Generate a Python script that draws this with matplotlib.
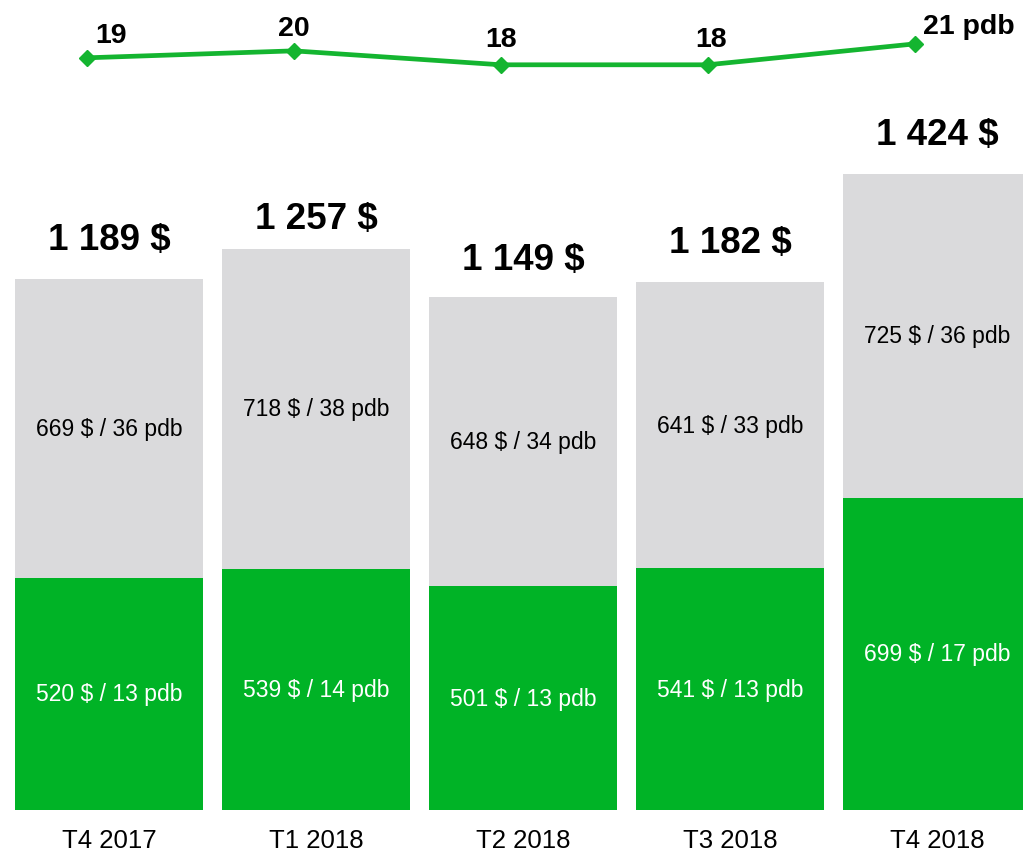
import matplotlib
matplotlib.use("Agg")
import matplotlib.pyplot as plt

# ---- data ----
categories = ["T4 2017", "T1 2018", "T2 2018", "T3 2018", "T4 2018"]
green_vals = [520, 539, 501, 541, 699]
green_pdb = [13, 14, 13, 13, 17]
gray_vals = [669, 718, 648, 641, 725]
gray_pdb = [36, 38, 34, 33, 36]
line_vals = [19, 20, 18, 18, 21]

# ---- style ----
GREEN = "#00B326"
GRAY = "#DADADC"
LINE_GREEN = "#14B530"
FONT = "Liberation Sans"
plt.rcParams["font.family"] = [FONT, "DejaVu Sans"]

total_offsets_px = [40, 30, 37, 40, 40]          # label centre above bar top
line_label_offsets_px = [(24, 23), (0, 23), (0, 26), (3, 26), (8, 18)]
line_label_ha = ["center", "center", "center", "center", "left"]

fig = plt.figure(figsize=(10.23, 8.53), dpi=100)
ax = fig.add_axes([0, 0, 1, 1])
ax.set_xlim(-0.527, 4.415)
ax.set_ylim(-94, 1816)
ax.axis("off")

x = list(range(len(categories)))
width = 0.908
ax.bar(x, green_vals, width=width, color=GREEN, linewidth=0)
ax.bar(x, gray_vals, width=width, bottom=green_vals, color=GRAY, linewidth=0)

for i in x:
    g, s = green_vals[i], gray_vals[i]
    ax.text(i, g / 2, f"{g} $ / {green_pdb[i]} pdb", ha="center", va="center",
            color="white", fontsize=16.5)
    ax.text(i, g + s / 2, f"{s} $ / {gray_pdb[i]} pdb", ha="center", va="center",
            color="black", fontsize=16.5)
    total = g + s
    tot_str = f"{total:,} $".replace(",", " ")
    ax.annotate(tot_str, (i, total), xytext=(0, total_offsets_px[i]),
                textcoords="offset pixels", ha="center", va="center",
                fontsize=26.5, fontweight="bold", color="black")
    ax.annotate(categories[i], (i, 0), xytext=(0, -30), textcoords="offset pixels",
                ha="center", va="center", fontsize=18.5, color="black")

# ---- line on overlay axes ----
ax2 = fig.add_axes([0, 0, 1, 1])
ax2.set_xlim(-0.527, 4.415)
ax2.set_ylim(-94.95, 27.44)
ax2.axis("off")
lx = [i - 0.108 for i in x]
ax2.plot(lx, line_vals, color=LINE_GREEN, linewidth=3.4, marker="D",
         markersize=8, markerfacecolor=LINE_GREEN, markeredgecolor=LINE_GREEN)
for i, v in enumerate(line_vals):
    lab = f"{v} pdb" if i == len(line_vals) - 1 else f"{v}"
    ax2.annotate(lab, (lx[i], v), xytext=line_label_offsets_px[i],
                 textcoords="offset pixels", ha=line_label_ha[i], va="center",
                 fontsize=20.5, fontweight="bold", color="black")

fig.savefig("out.png", dpi=100)
